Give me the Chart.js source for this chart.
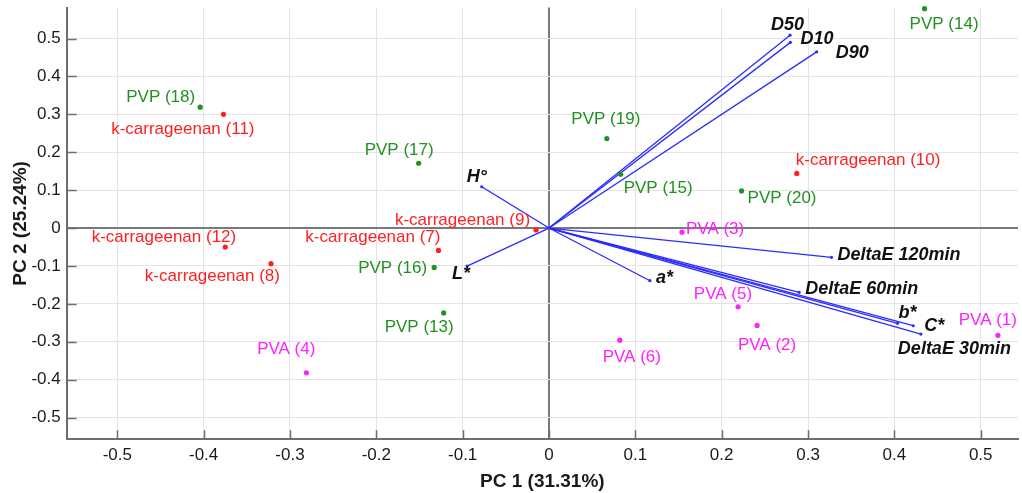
<!DOCTYPE html>
<html><head><meta charset="utf-8">
<script src="https://cdn.jsdelivr.net/npm/chart.js@4/dist/chart.umd.min.js"></script>
<style>html,body{margin:0;padding:0;background:#fff;overflow:hidden}canvas{display:block}</style>
</head><body><canvas id="c" width="1022" height="493"></canvas>
<script>
// ---- Sample scores (PC1, PC2) ----
const sampleNames = ['PVA (1)','PVA (2)','PVA (3)','PVA (4)','PVA (5)','PVA (6)',
  'k-carrageenan (7)','k-carrageenan (8)','k-carrageenan (9)','k-carrageenan (10)','k-carrageenan (11)','k-carrageenan (12)',
  'PVP (13)','PVP (14)','PVP (15)','PVP (16)','PVP (17)','PVP (18)','PVP (19)','PVP (20)'];
const sampleGroup = ['PVA','PVA','PVA','PVA','PVA','PVA',
  'k-carrageenan','k-carrageenan','k-carrageenan','k-carrageenan','k-carrageenan','k-carrageenan',
  'PVP','PVP','PVP','PVP','PVP','PVP','PVP','PVP'];
const samplePC1 = [0.520, 0.241, 0.154, -0.281, 0.219, 0.082,
  -0.128, -0.322, -0.015, 0.287, -0.377, -0.375,
  -0.122, 0.435, 0.083, -0.133, -0.151, -0.404, 0.067, 0.223];
const samplePC2 = [-0.283, -0.257, -0.011, -0.382, -0.208, -0.296,
  -0.059, -0.094, -0.005, 0.144, 0.300, -0.050,
  -0.224, 0.579, 0.142, -0.104, 0.171, 0.319, 0.236, 0.098];

// ---- Variable loadings ----
const varNames = ['D10','D50','D90','L*','a*','b*','C*','H°','DeltaE 30min','DeltaE 60min','DeltaE 120min'];
const varPC1 = [0.2796, 0.2792, 0.310, -0.0949, 0.1169, 0.4037, 0.4218, -0.0779, 0.4307, 0.2897, 0.3272];
const varPC2 = [0.490, 0.509, 0.465, -0.1003, -0.139, -0.2515, -0.2578, 0.109, -0.2797, -0.1697, -0.0774];

// ---- Axis ticks ----
const xTickStep = 0.1;
const yTickStep = 0.1;
const xTitle = 'PC 1 (31.31%)';
const yTitle = 'PC 2 (25.24%)';

// ---- Styles (not data) ----
const groupColors = {'PVP':'#229022','k-carrageenan':'#ff1f1f','PVA':'#ff22ff'};
const groupOrder = ['PVP','k-carrageenan','PVA'];
// label placement [align, dx, dy] relative to point
const sampleLabelPos = [
  ['right',19,-15],['center',10,20],['left',4,-3],['right',9,-23],['right',14,-13],['center',12,17],
  ['right',2,-13],['right',9,13],['right',-6,-10],['left',-1,-13],['right',31,15],['right',11,-10],
  ['right',10,14],['left',-15,16],['left',3,14],['right',-7,1],['right',15,-13],['right',-5,-10],['center',-1,-19],['left',6,7]
];
const varLabelPos = [
  ['left',10,-3],['right',14,-10],['left',19,1],['right',3,8],['left',6,-3],['left',1,-10],
  ['left',11,0],['center',-5,-10],['left',-23,15],['left',6,-3],['left',6,-2]
];
const vecColor = '#2b2bff';
const FONT = '"Liberation Sans", Arial, Helvetica, sans-serif';

const datasets = [];
groupOrder.forEach(g => {
  const pts = [];
  sampleNames.forEach((n,i) => { if (sampleGroup[i] === g) pts.push({x: samplePC1[i], y: samplePC2[i]}); });
  datasets.push({label: g, data: pts, backgroundColor: groupColors[g], borderColor: groupColors[g],
    pointRadius: 2.6, pointBorderWidth: 0, showLine: false, clip: 8, order: 1});
});
varNames.forEach((n,i) => {
  datasets.push({label: n, data: [{x:0,y:0},{x: varPC1[i], y: varPC2[i]}], showLine: true,
    borderColor: vecColor, backgroundColor: vecColor, borderWidth: 1.3, pointRadius: [0,1.6], pointBorderWidth: 0, clip: 8, order: 2});
});

const labelsPlugin = {
  id: 'labels',
  afterDatasetsDraw(chart) {
    const ctx = chart.ctx, xs = chart.scales.x, ys = chart.scales.y;
    ctx.save();
    ctx.textBaseline = 'middle';
    ctx.font = '17px ' + FONT;
    sampleNames.forEach((n,i) => {
      const p = sampleLabelPos[i];
      ctx.fillStyle = groupColors[sampleGroup[i]];
      ctx.textAlign = p[0];
      ctx.fillText(n, xs.getPixelForValue(samplePC1[i]) + p[1], ys.getPixelForValue(samplePC2[i]) + p[2]);
    });
    ctx.font = 'italic bold 18px ' + FONT;
    ctx.fillStyle = '#111';
    varNames.forEach((n,i) => {
      const p = varLabelPos[i];
      ctx.textAlign = p[0];
      ctx.fillText(n, xs.getPixelForValue(varPC1[i]) + p[1], ys.getPixelForValue(varPC2[i]) + p[2]);
    });
    ctx.restore();
  },
  afterDraw(chart) {
    const ctx = chart.ctx, xs = chart.scales.x, ys = chart.scales.y, a = chart.chartArea;
    ctx.save();
    ctx.strokeStyle = '#6e6e6e';
    ctx.lineWidth = 1.5;
    ctx.beginPath();
    xs.ticks.forEach(t => { const px = Math.round(xs.getPixelForValue(t.value)) + 0.5; ctx.moveTo(px, a.bottom); ctx.lineTo(px, a.bottom - 9); });
    ys.ticks.forEach(t => { const py = Math.round(ys.getPixelForValue(t.value)) + 0.5; ctx.moveTo(a.left, py); ctx.lineTo(a.left + 10, py); });
    ctx.stroke();
    ctx.restore();
  }
};

const fmt = v => { const r = Math.round(v * 10) / 10; return r === 0 ? '0' : r.toFixed(1); };
const gridColor = c => (Math.abs(c.tick.value) < 1e-9 ? '#7a7a7a' : '#e4e4e4');
const gridWidth = c => (Math.abs(c.tick.value) < 1e-9 ? 2 : 1);

new Chart(document.getElementById('c'), {
  type: 'scatter',
  data: {datasets},
  plugins: [labelsPlugin],
  options: {
    responsive: false, animation: false, devicePixelRatio: 1,
    layout: {padding: {top: 7.5, right: 0, left: 0, bottom: 0}},
    plugins: {legend: {display: false}, tooltip: {enabled: false}},
    scales: {
      x: {
        type: 'linear', min: -0.5586, max: 0.5432,
        afterFit(s) { s.height = 53.7; s.paddingLeft = 0; s.paddingRight = 0; },
        ticks: {stepSize: xTickStep, includeBounds: false, callback: fmt, color: '#1a1a1a',
          font: {family: FONT, size: 17}, padding: 6, maxRotation: 0, autoSkip: false},
        grid: {color: gridColor, lineWidth: gridWidth, drawTicks: false},
        border: {display: true, color: '#6e6e6e', width: 2},
        title: {display: true, text: xTitle, color: '#1a1a1a', font: {family: FONT, size: 19, weight: 'bold'}, padding: {top: 0, bottom: 0}}
      },
      y: {
        type: 'linear', min: -0.5575, max: 0.582,
        afterFit(s) { s.width = 66.7; s.paddingTop = 0; s.paddingBottom = 0; },
        ticks: {stepSize: yTickStep, includeBounds: false, callback: fmt, color: '#1a1a1a',
          font: {family: FONT, size: 17}, padding: 6, autoSkip: false},
        grid: {color: gridColor, lineWidth: gridWidth, drawTicks: false},
        border: {display: true, color: '#6e6e6e', width: 2},
        title: {display: true, text: yTitle, color: '#1a1a1a', font: {family: FONT, size: 19, weight: 'bold'}, padding: {top: 9, bottom: 0}}
      }
    }
  }
});
</script></body></html>
